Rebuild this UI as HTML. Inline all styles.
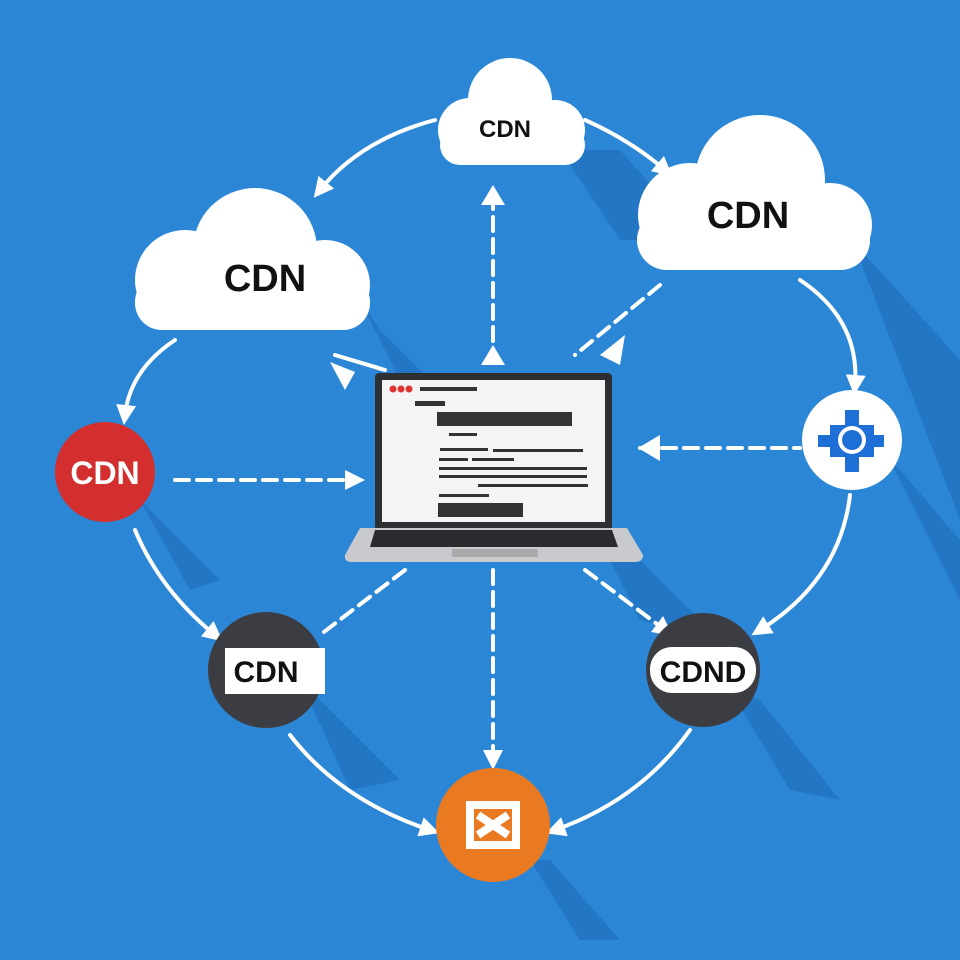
<!DOCTYPE html>
<html><head><meta charset="utf-8"><style>
html,body{margin:0;padding:0;background:#2b87d6;}
svg{display:block}
text{font-family:"Liberation Sans",sans-serif;font-weight:bold}
</style></head><body>
<svg width="960" height="960" viewBox="0 0 960 960" xmlns="http://www.w3.org/2000/svg">
<defs>
<marker id="a" viewBox="0 0 10 10" refX="5" refY="5" markerWidth="5" markerHeight="5" orient="auto"><path d="M0,0L10,5L0,10z" fill="#fff"/></marker>
</defs>
<rect width="960" height="960" fill="#2b87d6"/>
<!-- shadows -->
<g fill="#1f6fbb" opacity="0.7">
<path d="M560,150 L620,150 L700,240 L620,240z"/>
<path d="M850,240 L870,260 L960,360 L960,520 L860,260z"/>
<path d="M360,300 L380,330 L470,420 L420,420z"/>
<path d="M600,540 L640,560 L720,640 L640,620z"/>
<path d="M300,680 L320,700 L400,780 L350,790z"/>
<path d="M730,690 L760,700 L840,800 L790,790z"/>
<path d="M530,860 L550,860 L620,940 L580,940z"/>
<path d="M890,460 L900,470 L960,540 L960,600z"/>
<path d="M140,500 L150,510 L220,580 L190,590z"/>
</g>
<!-- ring connectors -->
<g fill="none" stroke="#fff" stroke-width="4" stroke-linecap="round">
<path d="M435,120 Q360,140 320,190" marker-end="url(#a)"/>
<path d="M585,120 Q630,140 665,170" marker-end="url(#a)"/>
<path d="M800,280 Q860,320 855,385" marker-end="url(#a)"/>
<path d="M850,495 Q840,580 760,630" marker-end="url(#a)"/>
<path d="M690,730 Q640,800 555,830" marker-end="url(#a)"/>
<path d="M290,735 Q340,800 430,830" marker-end="url(#a)"/>
<path d="M135,530 Q160,590 215,635" marker-end="url(#a)"/>
<path d="M175,340 Q130,370 125,415" marker-end="url(#a)"/>
<!-- spokes -->
<path d="M493,195 L493,360" stroke-dasharray="14,8"/>
<path d="M175,480 L355,480" stroke-dasharray="14,8" marker-end="url(#a)"/>
<path d="M640,448 L800,448" stroke-dasharray="14,8"/>
<path d="M493,570 L493,760" stroke-dasharray="14,8" marker-end="url(#a)"/>
<path d="M405,570 L320,635" stroke-dasharray="14,8"/>
<path d="M585,570 L665,630" stroke-dasharray="14,8" marker-end="url(#a)"/>
<path d="M660,285 L575,355" stroke-dasharray="14,8"/>
<path d="M335,355 L385,370"/>
</g>
<g fill="#fff">
<path d="M481,205 L493,185 L505,205z"/><path d="M481,365 L493,345 L505,365z"/>
<path d="M660,435 L638,448 L660,461z"/><path d="M330,362 L355,372 L345,390z"/>
<path d="M600,355 L625,335 L620,365z"/>
</g>
<!-- clouds -->
<g fill="#fff">
<g><circle cx="470" cy="130" r="32"/><circle cx="510" cy="100" r="42"/><circle cx="555" cy="130" r="30"/><rect x="440" y="125" width="145" height="40" rx="20"/></g>
<g><circle cx="690" cy="215" r="52"/><circle cx="760" cy="180" r="65"/><circle cx="830" cy="225" r="42"/><rect x="637" y="210" width="233" height="60" rx="30"/></g>
<g><circle cx="185" cy="280" r="50"/><circle cx="255" cy="250" r="62"/><circle cx="325" cy="285" r="45"/><rect x="135" y="275" width="235" height="55" rx="27"/></g>
</g>
<text x="505" y="137" font-size="24" text-anchor="middle" fill="#111">CDN</text>
<text x="748" y="228" font-size="38" text-anchor="middle" fill="#111">CDN</text>
<text x="265" y="291" font-size="38" text-anchor="middle" fill="#111">CDN</text>
<!-- nodes -->
<circle cx="105" cy="472" r="50" fill="#d32f2f"/>
<text x="105" y="484" font-size="32" text-anchor="middle" fill="#fff">CDN</text>
<circle cx="266" cy="670" r="58" fill="#3b3d42"/>
<rect x="225" y="648" width="100" height="46" fill="#fff"/>
<text x="266" y="682" font-size="30" text-anchor="middle" fill="#111">CDN</text>
<circle cx="703" cy="670" r="57" fill="#3b3d42"/>
<rect x="650" y="647" width="106" height="46" rx="22" fill="#fff"/>
<text x="703" y="682" font-size="30" text-anchor="middle" fill="#111">CDND</text>
<circle cx="493" cy="825" r="57" fill="#ea7a22"/>
<path d="M470,805 L516,805 L516,845 L470,845z M478,815 L508,835 M508,815 L478,835" stroke="#fff" stroke-width="8" fill="none"/>
<circle cx="852" cy="440" r="50" fill="#fff"/>
<path d="M845,410h14v15h15v10h10v12h-10v10h-15v15h-14v-15h-15v-10h-12v-12h12v-10h15z" fill="#1e6fd6"/>
<circle cx="852" cy="440" r="14" fill="#fff"/><circle cx="852" cy="440" r="10" fill="#1e6fd6"/>
<!-- laptop -->
<rect x="375" y="373" width="237" height="157" rx="4" fill="#2e2f33"/>
<rect x="382" y="380" width="223" height="142" fill="#f4f4f4"/>
<circle cx="393" cy="389" r="3.5" fill="#d33"/><circle cx="401" cy="389" r="3.5" fill="#d33"/><circle cx="409" cy="389" r="3.5" fill="#d33"/>
<g fill="#333">
<rect x="420" y="387" width="57" height="4"/><rect x="415" y="401" width="30" height="5"/>
<rect x="437" y="412" width="135" height="14"/>
<rect x="449" y="433" width="28" height="3"/><rect x="440" y="448" width="48" height="3"/><rect x="493" y="449" width="90" height="3"/>
<rect x="439" y="458" width="29" height="3"/><rect x="472" y="458" width="42" height="3"/>
<rect x="439" y="467" width="148" height="3"/><rect x="439" y="475" width="148" height="3"/>
<rect x="478" y="484" width="110" height="3"/><rect x="439" y="494" width="50" height="3"/>
<rect x="438" y="503" width="85" height="14"/>
</g>
<path d="M360,528 L627,528 L643,555 Q643,562 635,562 L352,562 Q344,562 345,555z" fill="#c9cacd"/>
<path d="M375,530 L612,530 L618,547 L370,547z" fill="#2a2b2f"/>
<rect x="452" y="549" width="86" height="8" fill="#aaa"/>
</svg>
</body></html>
